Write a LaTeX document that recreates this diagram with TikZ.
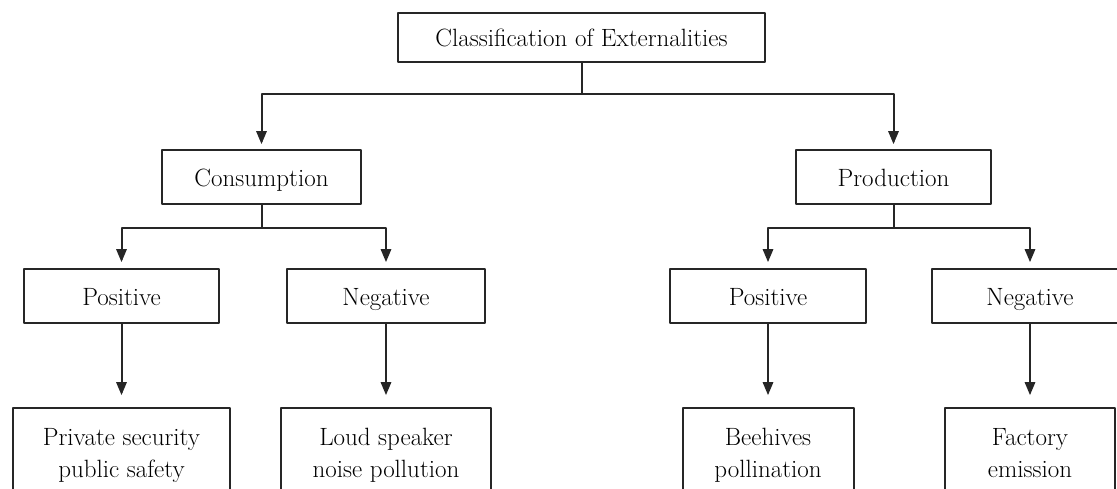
\documentclass[tikz,border=0pt]{standalone}
\usepackage{fontspec}
\usetikzlibrary{arrows}
\tikzset{
  box/.style={draw=black!85,line width=2pt,inner sep=0pt,align=center,
    font=\fontsize{25}{32}\selectfont,minimum height=54pt,
    text height=20pt,text depth=1pt},
  leaf/.style={box,minimum height=95pt,text height=49pt,text depth=6pt},
  link/.style={draw=black!85,line width=2pt}
}
\begin{document}
\begin{tikzpicture}[line cap=round,line join=round,>=triangle 45,x=1pt,y=1pt]
\useasboundingbox (0,0) rectangle (1117,488);
\clip (0,0) rectangle (1117,488);
% top level
\node[box,minimum width=367pt,minimum height=49pt] (cls) at (581.5,450.5) {Classification of Externalities};
\node[box,minimum width=199pt] (cons) at (261.5,311) {Consumption};
\node[box,minimum width=195pt] (prod) at (893.5,311) {Production};
% second level
\node[box,minimum width=195pt] (cpos) at (121.5,192) {Positive};
\node[box,minimum width=198pt] (cneg) at (386,192) {Negative};
\node[box,minimum width=196pt] (ppos) at (768,192) {Positive};
\node[box,minimum width=196pt] (pneg) at (1030,192) {Negative};
% examples
\node[leaf,minimum width=217pt] (cprv) at (121.5,32.5) {Private security\\public safety};
\node[leaf,minimum width=210pt] (cnoi) at (386,32.5) {Loud speaker\\noise pollution};
\node[leaf,minimum width=171pt] (pbee) at (768,32.5) {Beehives\\pollination};
\node[leaf,minimum width=170pt] (pfac) at (1030,32.5) {Factory\\emission};
% connectors
\draw[link,->,shorten >=5pt] (cls.south) -- ++(0,-31) -| (cons.north);
\draw[link,->,shorten >=5pt] (cls.south) -- ++(0,-31) -| (prod.north);
\draw[link,->,shorten >=6pt] (cons.south) -- ++(0,-23) -| (cpos.north);
\draw[link,->,shorten >=6pt] (cons.south) -- ++(0,-23) -| (cneg.north);
\draw[link,->,shorten >=6pt] (prod.south) -- ++(0,-23) -| (ppos.north);
\draw[link,->,shorten >=6pt] (prod.south) -- ++(0,-23) -| (pneg.north);
\foreach \a/\b in {cpos/cprv,cneg/cnoi,ppos/pbee,pneg/pfac}
\draw[link,->,shorten >=12pt] (\a.south) -- (\b.north);
\end{tikzpicture}
\end{document}
